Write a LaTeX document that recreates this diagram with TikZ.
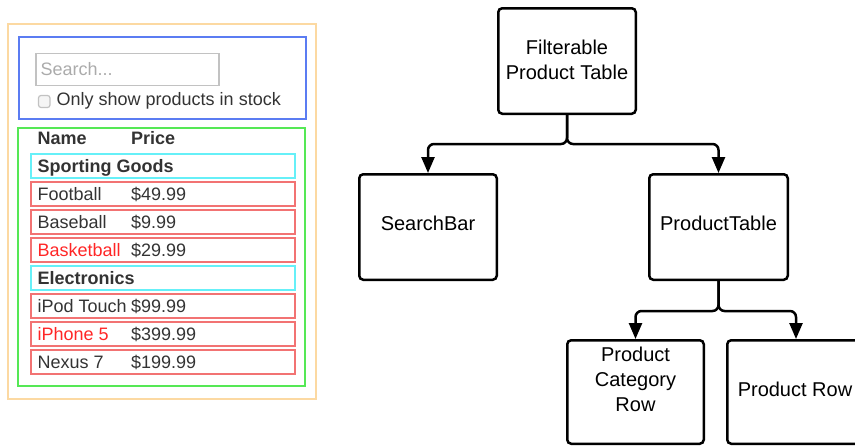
\documentclass[tikz,border=0pt]{standalone}
\usepackage{fontspec}
\setmainfont{Liberation Sans}
\usetikzlibrary{arrows.meta}
\definecolor{framecol}{HTML}{FCD9A2}
\definecolor{searchcol}{HTML}{5B7CF2}
\definecolor{tablecol}{HTML}{55E855}
\definecolor{catcol}{HTML}{66F0F8}
\definecolor{rowcol}{HTML}{F27373}
\definecolor{uitext}{HTML}{333333}
\definecolor{hottext}{HTML}{FF2626}
\definecolor{hint}{HTML}{ABABAB}
\definecolor{fieldcol}{HTML}{C2C2C2}
\begin{document}
\begin{tikzpicture}[x=1pt,y=-1pt,
  comp/.style={draw=black, line width=2.5pt, rounded corners=4pt,
    minimum width=137.5pt, inner sep=0pt},
  ctext/.style={font=\fontsize{20}{24.8}\selectfont, align=center, inner sep=0pt},
  conn/.style={line width=2.5pt, rounded corners=6pt,
    -{Triangle[width=13pt,length=16pt]}},
  ui/.style={font=\fontsize{18}{20}\selectfont, text=uitext, anchor=base west, inner sep=0pt},
  uibold/.style={ui, font=\fontsize{18}{20}\selectfont\bfseries},
  rowbox/.style={draw=rowcol, line width=1.5pt},
  catbox/.style={draw=catcol, line width=1.5pt}
]
\useasboundingbox (0,0) rectangle (855,447);

% ---------- mock-up of the rendered app ----------
\draw[framecol, line width=1.5pt] (8,24) rectangle (316,399);
\draw[searchcol, line width=2pt] (19,37) rectangle (306,119);
\draw[fieldcol, line width=1.5pt] (36,53.5) rectangle (219,85.5);
\node[ui, text=hint] (hintText) at (40.5,75) {Search...};
\draw[fieldcol, line width=1.2pt, fill=black!4, rounded corners=2.5pt] (38.5,95.5) rectangle (50,107.5);
\node[ui] (stockText) at (56.5,105) {Only show products in stock};

\draw[tablecol, line width=1.5pt] (18,128) rectangle (305,386);
\node[uibold] (hdrName) at (37.5,144) {Name};
\node[uibold] (hdrPrice) at (131,144) {Price};

% category rows and product rows, 28 units apart
\foreach \k/\kind/\name/\price/\col in {
    0/cat/Sporting Goods//uitext,
    1/row/Football/\$49.99/uitext,
    2/row/Baseball/\$9.99/uitext,
    3/row/Basketball/\$29.99/hottext,
    4/cat/Electronics//uitext,
    5/row/iPod Touch/\$99.99/uitext,
    6/row/iPhone 5/\$399.99/hottext,
    7/row/Nexus 7/\$199.99/uitext}{
  \pgfmathsetmacro{\rowtop}{154+28*\k}
  \draw[\kind box] (31,\rowtop) rectangle (295,\rowtop+24);
  \ifx\price\empty
    \node[uibold] (name\k) at (37.5,\rowtop+18) {\name};
  \else
    \node[ui, text=\col] (name\k) at (37.5,\rowtop+18) {\name};
    \node[ui] (price\k) at (131,\rowtop+18) {\price};
  \fi
}

% ---------- component hierarchy ----------
\node[comp, minimum height=105.5pt] (fpt) at (567,61) {};
\node[comp, minimum height=105.5pt] (sb)  at (428,227) {};
\node[comp, minimum height=105.5pt, minimum width=138.5pt] (pt) at (718.5,227) {};
\node[comp, minimum height=103.5pt, minimum width=136.5pt] (pcr) at (635.5,392) {};
\node[comp, minimum height=103.5pt] (pr) at (796,392) {};

\node[ctext, anchor=north] (fptText) at (567,39.6) {Filterable\\Product Table};
\node[ctext, anchor=base] (sbText) at (428,230.7) {SearchBar};
\node[ctext, anchor=base] (ptText) at (718.5,230.7) {ProductTable};
\node[ctext, anchor=north] (pcrText) at (635.5,347.3) {Product\\Category\\Row};
\node[ctext, anchor=base] (prText) at (795,396.7) {Product Row};

\coordinate (j1) at (567,144);
\coordinate (j2) at (718.5,311);
\draw[conn] (fpt.south) -- (j1) -| (sb.north);
\draw[conn] (fpt.south) -- (j1) -| (pt.north);
\draw[conn] (pt.south) -- (j2) -| (pcr.north);
\draw[conn] (pt.south) -- (j2) -| (pr.north);
\end{tikzpicture}
\end{document}
